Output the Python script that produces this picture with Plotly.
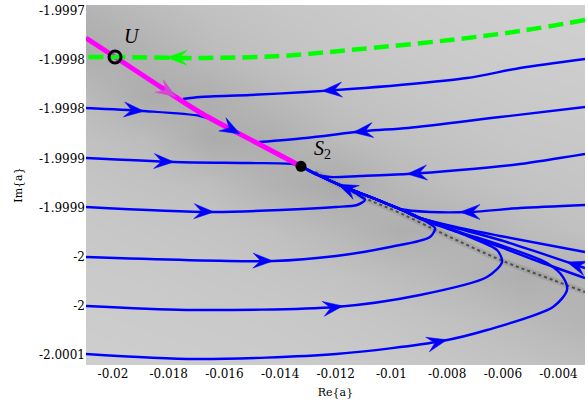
import numpy as np
import plotly.graph_objects as go

# ---------------- data (Re{a}, Im{a}) ----------------
X_RANGE = [-0.020970, -0.003049]
Y_RANGE = [-2.0001102, -1.9997439]

x_tick_vals = [-0.02, -0.018, -0.016, -0.014, -0.012, -0.01, -0.008, -0.006, -0.004]
x_tick_text = ["-0.02", "-0.018", "-0.016", "-0.014", "-0.012", "-0.01", "-0.008", "-0.006", "-0.004"]
y_tick_vals = [-1.99975, -1.9998, -1.99985, -1.9999, -1.99995, -2.0, -2.00005, -2.0001]
y_tick_text = ["-1.9997", "-1.9998", "-1.9998", "-1.9999", "-1.9999", "-2", "-2", "-2.0001"]

# background gray levels (rows top -> bottom, columns left -> right)
bg_gray = [
    [180, 188, 194, 198, 201, 204, 206, 207, 208],
    [172, 178, 188, 194, 198, 201, 203, 205, 206],
    [186, 172, 175, 186, 193, 197, 200, 202, 203],
    [193, 188, 172, 174, 186, 192, 196, 199, 200],
    [197, 194, 190, 178, 170, 184, 191, 195, 197],
    [200, 198, 196, 192, 184, 174, 178, 188, 193],
    [202, 201, 199, 197, 194, 189, 182, 174, 180],
    [204, 203, 202, 201, 199, 196, 192, 186, 180],
    [206, 205, 204, 203, 202, 200, 197, 194, 190],
]

# dark ridge
ridge_x = [-0.012745, -0.011129, -0.009693, -0.007897, -0.005994, -0.004198, -0.003049]
ridge_y = [-1.9999138, -1.9999382, -1.9999555, -1.9999800, -2.0000044, -2.0000237, -2.0000359]

# fixed points
U_pt = (-0.019928, -1.9997968)
S2_pt = (-0.013248, -1.9999080)

# unstable manifold (green, flows left) and magenta separatrix (flows to S2)
green_x = [-0.003049, -0.005383, -0.007897, -0.011488, -0.014002, -0.016875, -0.019928, -0.020970]
green_y = [-1.9997592, -1.9997704, -1.9997795, -1.9997897, -1.9997958, -1.9997978, -1.9997968, -1.9997968]
mag_x = [-0.020970, -0.019928, -0.018671, -0.016840, -0.014900, -0.013248]
mag_y = [-1.9997775, -1.9997968, -1.9998202, -1.9998538, -1.9998833, -1.9999080]

# shared approach path to S2
spine_x = [-0.009693, -0.010411, -0.011129, -0.011848, -0.012566, -0.013248]
spine_y = [-1.9999515, -1.9999433, -1.9999352, -1.9999271, -1.9999179, -1.9999080]

a_x = [-0.003049, -0.005383, -0.007286, -0.009693, -0.011488, -0.013069, -0.015080, -0.016875, -0.017486]
a_y = [-1.9997988, -1.9998080, -1.9998182, -1.9998253, -1.9998294, -1.9998324, -1.9998355, -1.9998375, -1.9998395]
b_x = [-0.003049, -0.006101, -0.009405, -0.010950, -0.013069, -0.014757]
b_y = [-1.9998477, -1.9998579, -1.9998690, -1.9998721, -1.9998792, -1.9998833]
c_x = [-0.020970, -0.018923, -0.016875, -0.016337, -0.015762, -0.014900, -0.013248]
c_y = [-1.9998487, -1.9998518, -1.9998568, -1.9998619, -1.9998701, -1.9998833, -1.9999080]
d_x = [-0.020970, -0.017809, -0.015080, -0.013535, -0.013248]
d_y = [-1.9998996, -1.9999036, -1.9999047, -1.9999057, -1.9999080]
e_x = [-0.003049, -0.005383, -0.007538, -0.009441, -0.011129, -0.012207, -0.012745, -0.013248]
e_y = [-1.9998955, -1.9999057, -1.9999118, -1.9999159, -1.9999179, -1.9999189, -1.9999159, -1.9999080]
f_x = [-0.003049, -0.005383, -0.007179, -0.008615] + spine_x
f_y = [-1.9999474, -1.9999505, -1.9999545, -1.9999545] + spine_y
g_x = [-0.020970, -0.016373, -0.011991, -0.011237, -0.010950, -0.011129, -0.011488] + spine_x[3:]
g_y = [-1.9999494, -1.9999545, -1.9999494, -1.9999474, -1.9999423, -1.9999382, -1.9999321] + spine_y[3:]
h_x = [-0.020970, -0.014254, -0.011991, -0.010052, -0.008615, -0.008436, -0.008723, -0.009046] + spine_x
h_y = [-2.0000003, -2.0000044, -1.9999993, -1.9999901, -1.9999800, -1.9999708, -1.9999647, -1.9999596] + spine_y
i_x = [-0.020970, -0.017378, -0.011991, -0.008974, -0.006568, -0.006029, -0.006209, -0.007179, -0.008256, -0.009046] + spine_x
i_y = [-2.0000502, -2.0000542, -2.0000512, -2.0000390, -2.0000207, -2.0000054, -1.9999932, -1.9999800, -1.9999677, -1.9999596] + spine_y
j_x = [-0.020970, -0.017019, -0.011991, -0.008184, -0.006568, -0.004198, -0.003695, -0.003839, -0.004413, -0.006101, -0.007538, -0.008974] + spine_x
j_y = [-2.0000990, -2.0001041, -2.0000990, -2.0000858, -2.0000746, -2.0000512, -2.0000339, -2.0000207, -2.0000064, -1.9999881, -1.9999749, -1.9999606] + spine_y
k1_x = [-0.003049, -0.006101, -0.007538, -0.008974] + spine_x
k1_y = [-1.9999952, -1.9999789, -1.9999708, -1.9999606] + spine_y
k2_x = [-0.003049, -0.004665, -0.006101, -0.007538, -0.008974] + spine_x
k2_y = [-2.0000115, -1.9999962, -1.9999830, -1.9999718, -1.9999606] + spine_y
k3_x = [-0.003049, -0.004665, -0.006101, -0.007538, -0.008974] + spine_x
k3_y = [-2.0000217, -2.0000054, -1.9999901, -1.9999759, -1.9999616] + spine_y

blue_curves = [(a_x, a_y), (b_x, b_y), (c_x, c_y), (d_x, d_y), (e_x, e_y), (f_x, f_y),
               (g_x, g_y), (h_x, h_y), (i_x, i_y), (j_x, j_y), (k1_x, k1_y), (k2_x, k2_y), (k3_x, k3_y)]

# arrow tips: (curve, Re{a} of the tip)
blue_arrows = [((a_x, a_y), -0.012494), ((b_x, b_y), -0.011381), ((c_x, c_y), -0.018887),
               ((d_x, d_y), -0.017809), ((e_x, e_y), -0.009441), ((f_x, f_y), -0.007538),
               ((f_x, f_y), -0.011919), ((g_x, g_y), -0.016373), ((h_x, h_y), -0.014254),
               ((i_x, i_y), -0.011740), ((j_x, j_y), -0.008005), ((k2_x, k2_y), -0.003695)]
blue_top_arrows = [((c_x, c_y), -0.015439)]
green_arrows = [((green_x, green_y), -0.018061)]
mag_arrows = [((mag_x, mag_y), -0.017737)]

# ---------------- layout geometry ----------------
W, H = 588, 402
ML, MR, MT, MB = 86, 3, 5, 37
PW, PH = W - ML - MR, H - MT - MB


def to_px(x, y):
    X = ML + (x - X_RANGE[0]) / (X_RANGE[1] - X_RANGE[0]) * PW
    Y = MT + (Y_RANGE[1] - y) / (Y_RANGE[1] - Y_RANGE[0]) * PH
    return X, Y


def to_data(X, Y):
    x = X_RANGE[0] + (X - ML) / PW * (X_RANGE[1] - X_RANGE[0])
    y = Y_RANGE[1] - (Y - MT) / PH * (Y_RANGE[1] - Y_RANGE[0])
    return x, y


def arrow_poly(xs, ys, tip_x, length=20.0, width=15.0, notch=0.62):
    P = [to_px(x, y) for x, y in zip(xs, ys)]
    tX, _ = to_px(tip_x, ys[0])
    for k in range(len(P) - 1):
        (x0, y0), (x1, y1) = P[k], P[k + 1]
        if (x0 - tX) * (x1 - tX) <= 0 and x0 != x1:
            t = (tX - x0) / (x1 - x0)
            tY = y0 + t * (y1 - y0)
            d = np.array([x1 - x0, y1 - y0])
            d = d / np.linalg.norm(d)
            break
    n = np.array([-d[1], d[0]])
    tip = np.array([tX, tY])
    back = tip - d * length
    pts = [tip, back + n * width / 2, tip - d * length * notch, back - n * width / 2, tip]
    out = [to_data(p[0], p[1]) for p in pts]
    return [p[0] for p in out], [p[1] for p in out]


def arrows_trace(specs, color):
    X, Y = [], []
    for (xs, ys), tx in specs:
        ax_, ay_ = arrow_poly(xs, ys, tx)
        X += ax_ + [None]
        Y += ay_ + [None]
    return go.Scatter(x=X, y=Y, mode="lines", fill="toself", fillcolor=color,
                      line=dict(color=color, width=0.5), hoverinfo="skip", showlegend=False)


fig = go.Figure()

# background
gx = np.linspace(X_RANGE[0], X_RANGE[1], len(bg_gray[0]))
gy = np.linspace(Y_RANGE[1], Y_RANGE[0], len(bg_gray))
fig.add_trace(go.Heatmap(x=gx, y=gy[::-1], z=bg_gray[::-1], zmin=0, zmax=255, zsmooth="best",
                         colorscale=[[0, "rgb(0,0,0)"], [1, "rgb(255,255,255)"]],
                         showscale=False, hoverinfo="skip"))
fig.add_trace(go.Scatter(x=ridge_x, y=ridge_y, mode="lines", line=dict(color="rgba(80,80,80,0.15)", width=6, shape="spline"),
                         hoverinfo="skip", showlegend=False))
fig.add_trace(go.Scatter(x=ridge_x, y=ridge_y, mode="lines", line=dict(color="rgba(40,40,40,0.7)", width=2, dash="dot", shape="spline"),
                         hoverinfo="skip", showlegend=False))

for xs, ys in blue_curves:
    fig.add_trace(go.Scatter(x=xs, y=ys, mode="lines", line=dict(color="#0000ff", width=2.4, shape="spline", smoothing=0.8),
                             hoverinfo="skip", showlegend=False))
fig.add_trace(arrows_trace(blue_arrows, "#0000ff"))

fig.add_trace(go.Scatter(x=mag_x, y=mag_y, mode="lines", line=dict(color="#ff00ff", width=5, shape="spline"),
                         hoverinfo="skip", showlegend=False))
fig.add_trace(arrows_trace(mag_arrows, "#d24ad2"))
fig.add_trace(arrows_trace(blue_top_arrows, "#0000ff"))

fig.add_trace(go.Scatter(x=green_x, y=green_y, mode="lines", line=dict(color="#00ff00", width=4.5, dash="15px,7px", shape="spline"),
                         hoverinfo="skip", showlegend=False))
fig.add_trace(arrows_trace(green_arrows, "#00ff00"))

fig.add_trace(go.Scatter(x=[U_pt[0]], y=[U_pt[1]], mode="markers",
                         marker=dict(symbol="circle-open", size=12, color="black", line=dict(width=3, color="black")),
                         hoverinfo="skip", showlegend=False))
fig.add_trace(go.Scatter(x=[S2_pt[0]], y=[S2_pt[1]], mode="markers",
                         marker=dict(symbol="circle", size=11, color="black"),
                         hoverinfo="skip", showlegend=False))

fig.add_annotation(x=-0.019318, y=-1.9997754, text="<i>U</i>", showarrow=False,
                   font=dict(family="Liberation Serif", size=20, color="black"))
fig.add_annotation(x=-0.012494, y=-1.9998914, text="<i>S</i><sub>2</sub>", showarrow=False,
                   font=dict(family="Liberation Serif", size=20, color="black"))

axis_font = dict(family="DejaVu Serif", size=12, color="black")
fig.update_layout(
    width=W, height=H, margin=dict(l=ML, r=MR, t=MT, b=MB),
    paper_bgcolor="white", plot_bgcolor="white",
    xaxis=dict(range=X_RANGE, tickvals=x_tick_vals, ticktext=x_tick_text, showgrid=False, zeroline=False,
               showline=False, ticks="", tickfont=axis_font,
               title=dict(text="Re{a}", font=dict(family="DejaVu Serif", size=11, color="black"), standoff=8)),
    yaxis=dict(range=Y_RANGE, tickvals=y_tick_vals, ticktext=y_tick_text, showgrid=False, zeroline=False,
               showline=False, ticks="", tickfont=axis_font,
               title=dict(text="Im{a}", font=dict(family="DejaVu Serif", size=11, color="black"), standoff=14)),
)

fig.write_html("out.html")
